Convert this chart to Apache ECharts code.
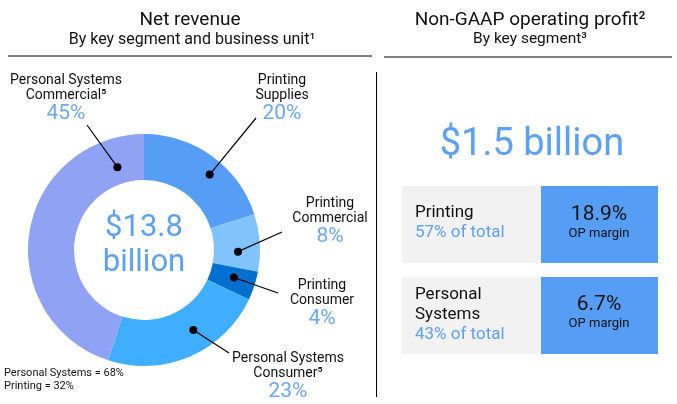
<!DOCTYPE html>
<html>
<head>
<meta charset="utf-8">
<script src="https://cdn.jsdelivr.net/npm/echarts@6/dist/echarts.min.js"></script>
<style>
html,body{margin:0;padding:0;background:#fff;}
#c{width:677px;height:404px;}
</style>
</head>
<body>
<div id="c"></div>
<script>
// ---- data ----
var categories = ['Printing\nSupplies', 'Printing\nCommercial', 'Printing\nConsumer', 'Personal Systems\nConsumer⁵', 'Personal Systems\nCommercial⁵'];
var revenueShare = [20, 8, 4, 23, 45];
var totalRevenue = '$13.8';
var segmentSplit = ['Personal Systems = 68%', 'Printing = 32%'];
var opTotal = '$1.5 billion';
var opSegments = ['Printing', 'Personal\nSystems'];
var opShareOfTotal = [57, 43];
var opMargin = [18.9, 6.7];

// ---- layout / style ----
var FONT = 'Roboto';
var colors = ['#559DF5', '#80C4FB', '#0070D0', '#40AEFE', '#90A2F4'];
var CX = 144, CY = 250, R0 = 70, R1 = 116;
var labelPos = [
  {x: 282, y: 73, end: [256, 118]},
  {x: 330, y: 196, end: [282, 232]},
  {x: 322, y: 278, end: [278, 293]},
  {x: 288, y: 351, end: [229, 353]},
  {x: 66, y: 73, end: [87, 125]}
];
var dotFrac = [0.57, 0.66, 0.43, 0.40, 0.89];
var dotR = [100, 94, 94, 94, 87];

// compute dot positions from data
var total = revenueShare.reduce(function(a,b){return a+b;},0);
var dots = [];
var acc = 0;
revenueShare.forEach(function(v,i){
  var a0 = acc/total*360, a1 = (acc+v)/total*360;
  var a = (a0 + (a1-a0)*dotFrac[i]) * Math.PI/180;
  dots.push([CX + dotR[i]*Math.sin(a), CY - dotR[i]*Math.cos(a)]);
  acc += v;
});

var chart = echarts.init(document.getElementById('c'), null, {renderer:'canvas'});

var graphics = [];
function txt(x,y,t,size,color,align,extra){
  var s = {text:t, x:x, y:y, fontFamily:FONT, fontSize:size, fill:color||'#111', align:align||'center', verticalAlign:'middle'};
  if(extra){for(var k in extra) s[k]=extra[k];}
  graphics.push({type:'text', style:s, z:10});
}
// titles
txt(190, 20, 'Net revenue', 19, '#111');
txt(192, 40, 'By key segment and business unit¹', 16, '#111');
graphics.push({type:'line', shape:{x1:8,y1:56,x2:372,y2:56}, style:{stroke:'#000', lineWidth:1}});
txt(530, 20, 'Non-GAAP operating profit²', 19, '#111');
txt(530, 39, 'By key segment³', 15.5, '#111');
graphics.push({type:'line', shape:{x1:384,y1:57,x2:672,y2:57}, style:{stroke:'#000', lineWidth:1}});
graphics.push({type:'line', shape:{x1:376.5,y1:72,x2:376.5,y2:397}, style:{stroke:'#000', lineWidth:1}});
// center
txt(CX, 228, totalRevenue, 31, '#5BA1F5');
txt(CX, 263, 'billion', 31, '#5BA1F5');
// footnote
txt(4, 373, segmentSplit[0], 11, '#111', 'left');
txt(4, 386, segmentSplit[1], 11, '#111', 'left');
// pie labels, leader lines and dots
categories.forEach(function(c,i){
  var L = labelPos[i];
  var rt = '{n|' + c.split('\n').join('}\n{n|') + '}\n{p|' + revenueShare[i] + '%}';
  graphics.push({type:'text', z:10, style:{
    text: rt, x: L.x, y: L.y, align:'center', verticalAlign:'top',
    rich: {
      n: {fontFamily: FONT, fontSize: 14, fill: '#111', lineHeight: 15, align:'center'},
      p: {fontFamily: FONT, fontSize: 21, fill: '#6AA8F5', lineHeight: 22, align:'center'}
    }
  }});
  graphics.push({type:'line', z:15, shape:{x1:dots[i][0], y1:dots[i][1], x2:L.end[0], y2:L.end[1]}, style:{stroke:'#000', lineWidth:1.2}});
  graphics.push({type:'circle', z:20, shape:{cx:dots[i][0], cy:dots[i][1], r:4}, style:{fill:'#000'}});
});
// OP section
txt(532, 145, opTotal, 38, '#5BA1F5');
var boxY = [186, 277], boxH = 77;
opSegments.forEach(function(s,i){
  var y = boxY[i];
  graphics.push({type:'rect', shape:{x:402, y:y, width:140, height:boxH}, style:{fill:'#F2F2F2'}});
  graphics.push({type:'rect', shape:{x:541, y:y, width:117, height:boxH}, style:{fill:'#559DF5'}});
  var lines = s.split('\n');
  var ty = i===0 ? 213 : 295;
  lines.forEach(function(l,j){ txt(415, ty + j*20, l, 17, '#111', 'left'); });
  txt(415, ty + lines.length*20, opShareOfTotal[i] + '% of total', 17, '#5BA1F5', 'left');
  var my = i===0 ? 215 : 305;
  txt(599, my, opMargin[i].toFixed(1) + '%', 21, '#111');
  txt(599, my + 19, 'OP margin', 13, '#111');
});

chart.setOption({
  animation: false,
  series: [{
    type: 'pie',
    center: [CX, CY],
    radius: [R0, R1],
    startAngle: 90,
    clockwise: true,
    silent: true,
    itemStyle: {borderWidth: 0},
    label: {show: false},
    labelLine: {show: false},
    data: categories.map(function(c,i){
      return {name: c, value: revenueShare[i], itemStyle: {color: colors[i]}};
    })
  }],
  graphic: graphics
});
</script>
</body>
</html>
